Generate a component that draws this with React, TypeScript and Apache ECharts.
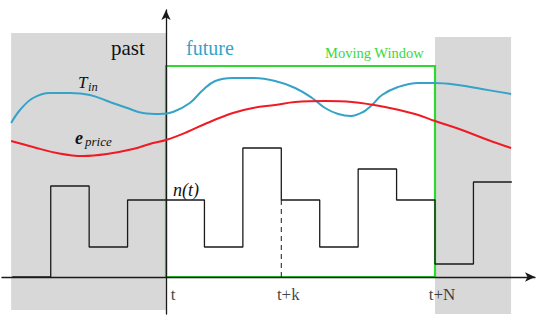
import React, { useEffect, useRef } from "react";
import * as echarts from "echarts";

// time in control steps (t = 0), values in arbitrary units
const stepTimes = [-4, -3, -2, -1, 0, 1, 2, 3, 4, 5, 6, 7, 8, 9];
const nValues = [0, 9.1, 3.0, 7.7, 7.7, 3.0, 12.9, 7.7, 3.0, 10.8, 7.7, 1.3, 9.5, 9.5];

const tinTimes = [-4.03, -3.8, -3.46, -3.02, -2.5, -1.98, -1.46, -1.01, -0.6, -0.16, 0.18, 0.62, 0.96, 1.28, 1.74, 2.26, 2.84, 3.36, 3.8, 4.14, 4.48, 4.81, 5.13, 5.36, 5.62, 6.04, 6.56, 7.0, 7.6, 8.22, 8.98];
const tinValues = [15.4, 16.7, 17.9, 18.4, 18.4, 18.2, 17.5, 16.9, 16.4, 16.3, 16.5, 17.4, 18.7, 19.6, 19.9, 19.9, 19.6, 18.9, 17.9, 16.9, 16.3, 16.1, 16.5, 17.2, 18.2, 19.0, 19.4, 19.4, 19.2, 18.8, 18.3];

const priceTimes = [-4.03, -3.46, -2.84, -2.16, -1.54, -0.86, -0.34, 0, 0.55, 1.07, 1.74, 2.26, 2.84, 3.36, 4.14, 4.84, 5.7, 6.48, 7.0, 7.7, 8.38, 8.98];
const priceValues = [13.6, 13.0, 12.4, 12.1, 12.3, 12.8, 13.4, 13.7, 14.5, 15.4, 16.4, 16.9, 17.2, 17.5, 17.6, 17.5, 17.0, 16.3, 15.6, 14.7, 13.7, 12.9];

const K_STEP = 3;
const N_STEP = 7;
const WINDOW_TOP = 21.1;
const pastRange = [-4.03, 0];
const pastY = [24.4, -3.3];
const beyondRange = [7, 8.98];
const beyondY = [24.0, -3.7];

const tickValues = [0, K_STEP, N_STEP];
const tickLabels = ["t", "t+k", "t+N"];

const SERIF = "Liberation Serif";

export default function App() {
  const ref = useRef<HTMLDivElement>(null);
  useEffect(() => {
    if (!ref.current) return;
    const chart = echarts.init(ref.current, null, { renderer: "svg" });
    const pairs = (xs: number[], ys: number[]) => xs.map((x, i) => [x, ys[i]]);
    const kIdx = stepTimes.indexOf(K_STEP);
    const txt = (x: number, y: number, text: string, font: string, fill = "#111") => ({
      type: "text",
      x,
      y,
      z: 10,
      style: { text, font: `${font} '${SERIF}', serif`, fill, verticalAlign: "middle" },
    });
    chart.setOption({
      animation: false,
      backgroundColor: "#ffffff",
      grid: { left: 2, right: 15, top: 10, bottom: 11, outerBoundsMode: "none", containLabel: false },
      xAxis: {
        type: "value",
        min: -4.268,
        max: 9.602,
        z: 3,
        splitLine: { show: false },
        axisTick: { show: false },
        axisLabel: { show: false },
        axisLine: {
          onZero: true,
          symbol: ["none", "arrow"],
          symbolSize: [7, 10],
          lineStyle: { color: "#1a1a1a", width: 1.3 },
        },
      },
      yAxis: {
        type: "value",
        min: -3.7,
        max: 26.7,
        z: 3,
        splitLine: { show: false },
        axisTick: { show: false },
        axisLabel: { show: false },
        axisLine: {
          onZero: true,
          symbol: ["none", "arrow"],
          symbolSize: [7, 10],
          lineStyle: { color: "#1a1a1a", width: 1.3 },
        },
      },
      series: [
        {
          type: "line",
          name: "regions",
          z: 1,
          data: [[0, 0]],
          showSymbol: false,
          lineStyle: { opacity: 0 },
          silent: true,
          markArea: {
            silent: true,
            itemStyle: { color: "#d8d8d8" },
            data: [
              [
                { coord: [pastRange[0], pastY[0]] },
                { coord: [pastRange[1], pastY[1]] },
              ],
              [
                { coord: [beyondRange[0], beyondY[0]] },
                { coord: [beyondRange[1], beyondY[1]] },
              ],
            ],
          },
        },
        {
          type: "line",
          name: "T_in",
          z: 4,
          data: pairs(tinTimes, tinValues),
          smooth: 0.4,
          showSymbol: false,
          lineStyle: { color: "#35a3c8", width: 2 },
        },
        {
          type: "line",
          name: "e_price",
          z: 4,
          data: pairs(priceTimes, priceValues),
          smooth: 0.4,
          showSymbol: false,
          lineStyle: { color: "#f01a24", width: 2 },
        },
        {
          type: "line",
          name: "n(t)",
          z: 5,
          step: "end",
          data: pairs(stepTimes, nValues),
          showSymbol: false,
          lineStyle: { color: "#1a1a1a", width: 1.3 },
        },
        {
          type: "line",
          name: "k",
          z: 5,
          data: [
            [K_STEP, 0],
            [K_STEP, nValues[kIdx]],
          ],
          showSymbol: false,
          lineStyle: { color: "#1a1a1a", width: 1, type: [5, 4] },
        },
        {
          type: "line",
          name: "window",
          z: 6,
          data: [[0, 0]],
          showSymbol: false,
          lineStyle: { opacity: 0 },
          markArea: {
            silent: true,
            itemStyle: {
              color: "rgba(0,0,0,0)",
              borderColor: "#2fd82f",
              borderWidth: 2.2,
            },
            data: [[{ coord: [0, WINDOW_TOP] }, { coord: [N_STEP, 0] }]],
          },
        },
        {
          type: "scatter",
          name: "ticks",
          z: 7,
          symbolSize: 0,
          data: tickValues.map((v, i) => ({ value: [v, 0], name: tickLabels[i] })),
          label: {
            show: true,
            position: "bottom",
            distance: 9,
            offset: [7, 0],
            formatter: (p: any) => p.name,
            color: "#111",
            fontFamily: SERIF,
            fontSize: 17,
          },
        },
      ],
      graphic: [
        txt(111, 48, "past", "21px"),
        txt(186, 48, "future", "20px", "#35a3c8"),
        txt(325, 52.5, "Moving Window", "14.5px", "#3ad83a"),
        txt(78, 82, "T", "italic 17px"),
        txt(88, 87, "in", "italic 12.5px"),
        txt(75, 138, "e", "italic bold 18px"),
        txt(85, 141, "price", "italic 13px"),
        txt(173, 190, "n(t)", "italic 18px"),
      ],
    });
    return () => chart.dispose();
  }, []);
  return (
    <div
      ref={ref}
      style={{ position: "absolute", left: 0, top: 0, width: 550, height: 325 }}
    />
  );
}
